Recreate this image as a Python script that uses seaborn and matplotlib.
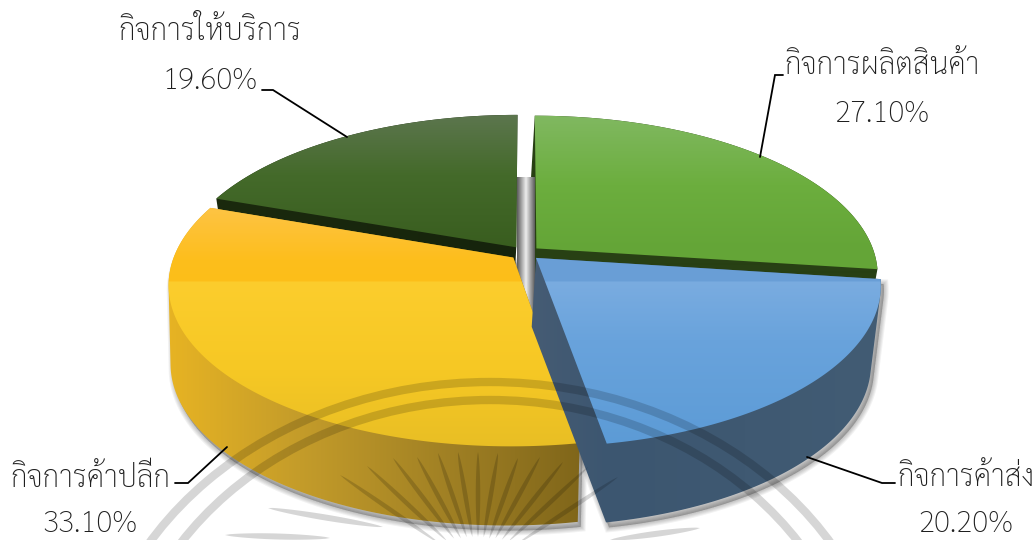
import numpy as np
import matplotlib
matplotlib.use('Agg')
import matplotlib.pyplot as plt
from matplotlib.patches import Ellipse, Polygon
from matplotlib.transforms import Transform
import seaborn as sns

# ข้อมูลจากแผนภูมิ
categories = ['กิจการผลิตสินค้า', 'กิจการค้าส่ง', 'กิจการค้าปลีก', 'กิจการให้บริการ']
shares = [27.10, 20.20, 33.10, 19.60]
share_labels = ['27.10%', '20.20%', '33.10%', '19.60%']

# สีผิวบนของแต่ละชิ้น: (y, r, g, b)
top_stops = [
    [(117, 128, 184, 96), (185, 108, 174, 62), (250, 100, 165, 55), (290, 100, 165, 55)],
    [(255, 105, 158, 214), (281, 105, 158, 214), (282, 122, 172, 224), (340, 105, 163, 220), (445, 92, 155, 214)],
    [(205, 253, 196, 70), (260, 253, 190, 28), (281, 252, 190, 25), (282, 252, 205, 45), (370, 246, 200, 36), (450, 232, 190, 36)],
    [(115, 92, 118, 78), (175, 68, 106, 42), (255, 56, 92, 30)],
]
# สีผนังด้านข้าง: (x, r, g, b)
wall_stops = [
    [(530, 40, 64, 20), (880, 40, 64, 20)],
    [(530, 70, 92, 116), (610, 60, 86, 112), (880, 66, 92, 116)],
    [(165, 232, 180, 35), (300, 196, 156, 42), (450, 160, 128, 36), (580, 128, 102, 26)],
    [(215, 27, 42, 14), (520, 22, 36, 12)],
]

# ตำแหน่งป้ายกำกับ
label_xy = [(882, 66), (966, 479), (90, 479), (210, 32)]
value_xy = [(882, 114), (966, 525), (90, 525), (210, 81)]
leaders = [
    [(760, 157), (775, 75), (783, 75)],
    [(807, 457), (882, 483), (895, 483)],
    [(227, 447), (188, 483), (175, 483)],
    [(347, 137), (273, 90), (262, 90)],
]

# ลายน้ำตราสัญลักษณ์
arc_ellipses = [(490, 720, 400, 338), (490, 722, 372, 322)]
ray_tips = [(340, 475), (367, 466), (393, 458), (417, 457), (438, 453), (458, 452), (478, 452),
            (498, 453), (518, 458), (540, 457), (563, 462), (588, 467), (618, 477)]
ray_base = (478, 570)
wing_strokes = [[(268, 508), (383, 527)], [(225, 535), (330, 538)], [(700, 528), (610, 540)]]


class PiePerspective(Transform):
    """ฉายวงกลมหน่วยของ pie ลงพิกเซล แบบมองเอียงมีมุมมอง"""
    input_dims = 2
    output_dims = 2
    is_separable = False
    has_inverse = False

    def __init__(self, cx, cy, a, b, k):
        super().__init__()
        self.cx, self.cy, self.a, self.b, self.k = cx, cy, a, b, k

    def transform_non_affine(self, values):
        values = np.asarray(values, dtype=float)
        w = 1 + self.k * values[:, 1]
        return np.column_stack([self.cx + self.a * values[:, 0] / w,
                                self.cy - self.b * values[:, 1] / w])


def wedge_outline(wedge):
    # ไล่ขอบชิ้นจากมุมที่ ax.pie คำนวณไว้
    t = np.radians(np.linspace(wedge.theta1, wedge.theta2, 240))
    x0, y0 = wedge.center
    arc = np.column_stack([x0 + wedge.r * np.cos(t), y0 + wedge.r * np.sin(t)])
    return np.vstack([[x0, y0], arc])


def convex_hull(points):
    pts = sorted(set(map(tuple, np.round(points, 2))))

    def half(seq):
        out = []
        for p in seq:
            while len(out) > 1 and (out[-1][0] - out[-2][0]) * (p[1] - out[-2][1]) \
                    - (out[-1][1] - out[-2][1]) * (p[0] - out[-2][0]) <= 0:
                out.pop()
            out.append(p)
        return out[:-1]
    return np.array(half(pts) + half(pts[::-1]))


def vertical_fill(stops):
    stops = np.array(stops, dtype=float)
    ys = np.arange(540) + 0.5
    return np.dstack([np.interp(ys, stops[:, 0], stops[:, i])[:, None] for i in (1, 2, 3)]) / 255


def horizontal_fill(stops):
    stops = np.array(stops, dtype=float)
    xs = np.arange(1036) + 0.5
    return np.dstack([np.interp(xs, stops[:, 0], stops[:, i])[None, :] for i in (1, 2, 3)]) / 255


def spindle(ax, p0, p1, width, color):
    # เส้นลายน้ำเรียวหัวท้าย
    p0, p1 = np.array(p0, float), np.array(p1, float)
    d = p1 - p0
    n = np.array([-d[1], d[0]]) / np.hypot(*d)
    s = np.linspace(0, 1, 24)
    half_w = width / 2 * np.sin(np.pi * s) ** 0.6
    centre = p0 + s[:, None] * d
    ax.fill(*np.vstack([centre + half_w[:, None] * n, (centre - half_w[:, None] * n)[::-1]]).T,
            color=color, lw=0, zorder=20)


sns.set_theme(style='white')
plt.rcParams['font.family'] = ['Sarabun', 'DejaVu Sans']

fig = plt.figure(figsize=(10.36, 5.4), dpi=100)
ax = fig.add_axes([0, 0, 1, 1])

wedges, _ = ax.pie(shares, startangle=90, counterclock=False, radius=1,
                   explode=[0.045] * len(shares), colors=sns.color_palette('deep', 4))
ax.set_aspect('auto')
ax.set_xlim(0, 1036)
ax.set_ylim(540, 0)
ax.axis('off')

top_proj = PiePerspective(525, 253, 338, 156, 0.165)
bottom_proj = PiePerspective(521, 322, 328, 153, 0.22)
extent = (0, 1036, 540, 0)

# วาดจากด้านหลังมาด้านหน้า: ให้บริการ, ผลิตสินค้า, ค้าปลีก, ค้าส่ง
draw_order = [3, 0, 2, 1]
outlines = {}
hulls = {}
for i in draw_order:
    poly = wedge_outline(wedges[i])
    wedges[i].set_visible(False)
    outlines[i] = top_proj.transform(poly)
    hulls[i] = convex_hull(np.vstack([outlines[i], bottom_proj.transform(poly)]))

# เงาฟุ้งใต้ชิ้นหน้า
for i in (2, 1):
    for lw in (1, 2.5, 4, 5.5, 7):
        ax.add_patch(Polygon(hulls[i] + np.array([3, 5]), closed=True, fc=(0, 0, 0, 0.05),
                             ec=(0, 0, 0, 0.05), lw=lw, zorder=1))

z = 3
for i in draw_order:
    hull = Polygon(hulls[i], closed=True, fc='none', ec='none', zorder=z)
    ax.add_patch(hull)
    wall = ax.imshow(horizontal_fill(wall_stops[i]), extent=extent, aspect='auto',
                     interpolation='bilinear', zorder=z)
    wall.set_clip_path(hull)
    top = Polygon(outlines[i], closed=True, fc='none', ec='none', zorder=z + 1)
    ax.add_patch(top)
    face = ax.imshow(vertical_fill(top_stops[i]), extent=extent, aspect='auto',
                     interpolation='nearest', zorder=z + 1)
    face.set_clip_path(top)
    z += 2

# ผนังด้านในตรงกลาง อยู่หน้าชิ้นหลังสองชิ้น แต่หลังชิ้นหน้า
strip = np.interp(np.linspace(0, 1, 41), [0, 0.12, 0.5, 0.88, 1], [0.36, 0.5, 0.93, 0.5, 0.36])
ax.imshow(strip[None, :], cmap='gray', vmin=0, vmax=1, extent=(517, 535, 322, 177),
          aspect='auto', interpolation='bilinear', zorder=6.5)

ax.set_xlim(0, 1036)
ax.set_ylim(540, 0)

# ลายน้ำ
mark = (0, 0, 0, 0.16)
for cx, cy, a, b in arc_ellipses:
    ax.add_patch(Ellipse((cx, cy), 2 * a, 2 * b, fill=False, ec=mark, lw=6, zorder=20))
for tip in ray_tips:
    base = (tip[0] + (ray_base[0] - tip[0]) * 0.72, tip[1] + (ray_base[1] - tip[1]) * 0.72)
    spindle(ax, tip, base, 4.5, mark)
for p0, p1 in wing_strokes:
    spindle(ax, p0, p1, 6, mark)

# เส้นนำและข้อความ
for line in leaders:
    xs, ys = zip(*line)
    ax.plot(xs, ys, color='black', lw=1.3, zorder=21, solid_joinstyle='miter')
for name, value, pos, vpos in zip(categories, share_labels, label_xy, value_xy):
    ax.text(*pos, name, ha='center', va='center', fontsize=21.5, color='#1f1f1f',
            fontweight='light', zorder=22)
    ax.text(*vpos, value, ha='center', va='center', fontsize=21.5, color='#1f1f1f',
            fontweight='light', zorder=22)

fig.savefig('out.png', dpi=100)
plt.close(fig)
